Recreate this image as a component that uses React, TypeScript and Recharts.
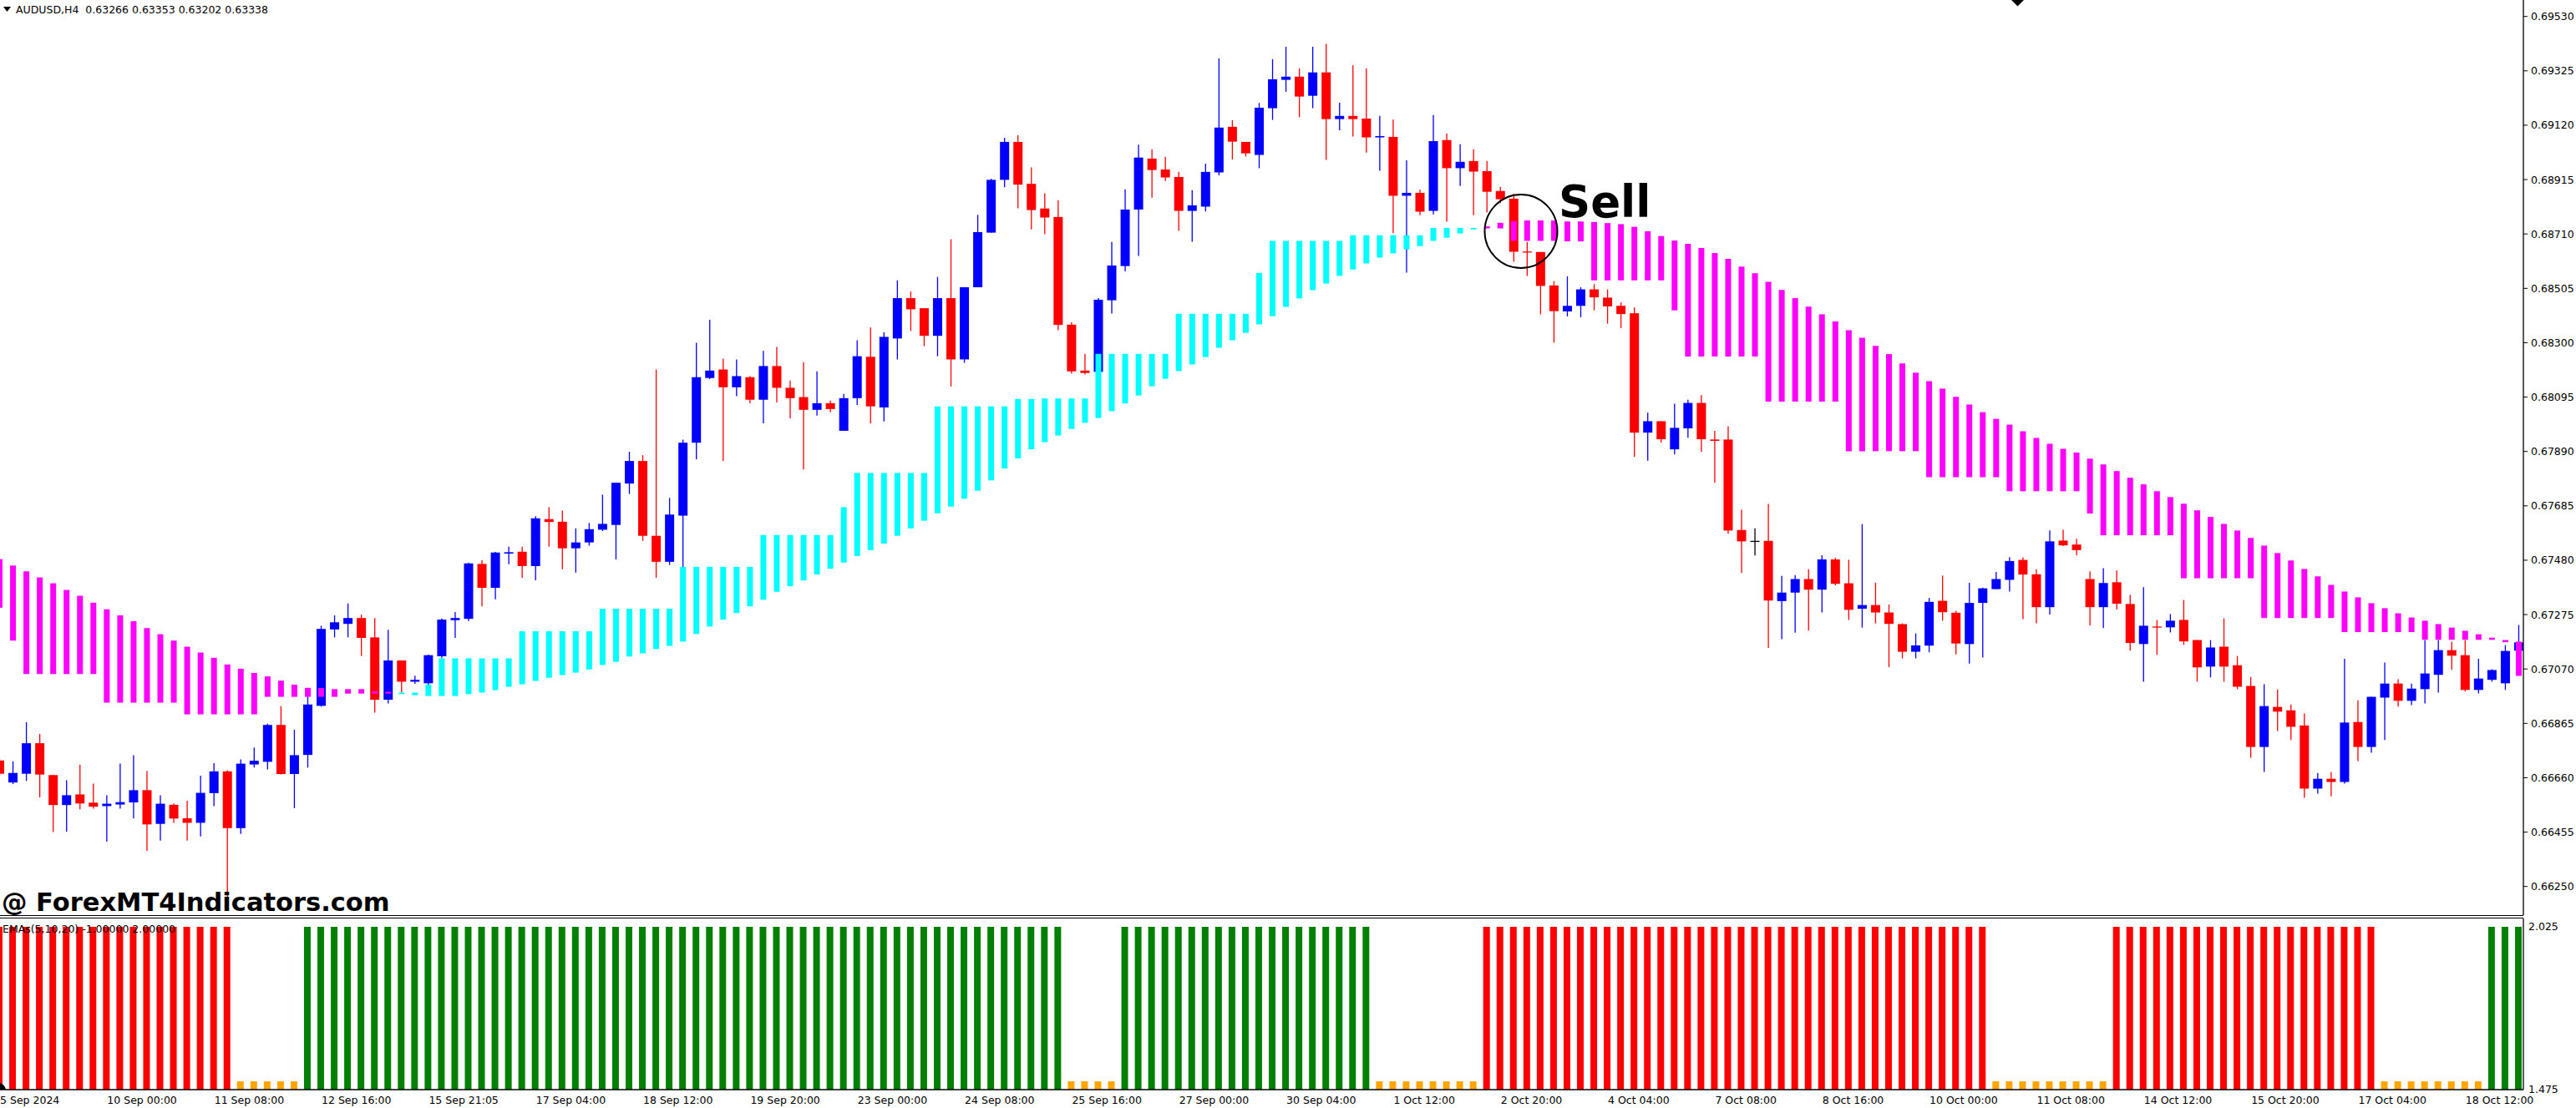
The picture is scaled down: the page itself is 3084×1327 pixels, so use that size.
import { Bar, Cell, ComposedChart, XAxis, YAxis } from "recharts";

// AUDUSD H4 candles, left to right
const opens = [
  0.66725, 0.66642, 0.66675, 0.6679, 0.6667, 0.66557, 0.66597, 0.66566, 0.66553, 0.66559,
  0.66567, 0.66613, 0.66486, 0.66558, 0.66507, 0.6649, 0.66602, 0.66684, 0.6647, 0.6671,
  0.6672, 0.66859, 0.66674, 0.66746, 0.66931, 0.67219, 0.6724, 0.67262, 0.67189, 0.66954,
  0.67102, 0.67022, 0.67016, 0.67118, 0.67254, 0.67259, 0.67466, 0.67376, 0.67505, 0.67512,
  0.67458, 0.67635, 0.67625, 0.67525, 0.67547, 0.67595, 0.67613, 0.67769, 0.67854, 0.67572,
  0.67474, 0.67648, 0.67923, 0.68167, 0.68199, 0.68132, 0.6817, 0.68085, 0.68212, 0.6813,
  0.68095, 0.68047, 0.68072, 0.67968, 0.68091, 0.68247, 0.68056, 0.68316, 0.68468, 0.6843,
  0.68326, 0.68468, 0.68237, 0.68509, 0.68715, 0.68914, 0.69057, 0.68899, 0.68806, 0.68774,
  0.68368, 0.68195, 0.6819, 0.6846, 0.68589, 0.68802, 0.68994, 0.68953, 0.68925, 0.68797,
  0.68813, 0.68942, 0.69114, 0.69057, 0.69008, 0.69184, 0.69291, 0.69303, 0.69231, 0.69319,
  0.69143, 0.69155, 0.69145, 0.69074, 0.69076, 0.68854, 0.68865, 0.68797, 0.69064, 0.68958,
  0.68985, 0.68947, 0.68872, 0.68843, 0.68644, 0.68642, 0.68516, 0.68418, 0.68439, 0.68501,
  0.6847, 0.68439, 0.68411, 0.67961, 0.68004, 0.67898, 0.67977, 0.68073, 0.67935, 0.67935,
  0.67594, 0.67553, 0.67553, 0.67326, 0.67358, 0.67409, 0.67369, 0.67483, 0.67393, 0.67297,
  0.67311, 0.67283, 0.67239, 0.67135, 0.67158, 0.67327, 0.67282, 0.67164, 0.67319, 0.67371,
  0.67406, 0.67481, 0.67427, 0.67303, 0.67554, 0.67539, 0.67409, 0.67303, 0.67397, 0.67315,
  0.67164, 0.6723, 0.67227, 0.67255, 0.67179, 0.67079, 0.67154, 0.67084, 0.67006, 0.66776,
  0.66927, 0.66914, 0.66857, 0.66619, 0.66656, 0.66644, 0.6687, 0.66776, 0.66962, 0.67015,
  0.6695, 0.66994, 0.67048, 0.67141, 0.67122, 0.66991, 0.67029, 0.67016, 0.67139,
];
const highs = [
  0.66731, 0.66722, 0.66869, 0.66825, 0.6667, 0.6665, 0.66709, 0.66638, 0.66594, 0.66713,
  0.66745, 0.66686, 0.66594, 0.66563, 0.66573, 0.66668, 0.66715, 0.66688, 0.66729, 0.66774,
  0.66864, 0.6693, 0.66841, 0.66968, 0.67233, 0.67272, 0.67317, 0.67275, 0.67262, 0.67218,
  0.67102, 0.67045, 0.67124, 0.6726, 0.67285, 0.6747, 0.6748, 0.67511, 0.67531, 0.67531,
  0.67646, 0.6768, 0.67667, 0.676, 0.6762, 0.67727, 0.67772, 0.67889, 0.67876, 0.68199,
  0.67715, 0.67935, 0.683, 0.68386, 0.6824, 0.68237, 0.68174, 0.68269, 0.68284, 0.68157,
  0.68227, 0.68192, 0.68082, 0.68107, 0.68309, 0.68357, 0.68339, 0.68535, 0.68493, 0.6843,
  0.68548, 0.6869, 0.68509, 0.68782, 0.68918, 0.69073, 0.69082, 0.68961, 0.68863, 0.68837,
  0.68377, 0.68258, 0.68468, 0.6868, 0.68878, 0.69047, 0.69029, 0.69001, 0.68944, 0.68875,
  0.68975, 0.69372, 0.69139, 0.69057, 0.69204, 0.69369, 0.69416, 0.69334, 0.69416, 0.69427,
  0.69205, 0.69346, 0.69334, 0.69155, 0.69141, 0.68988, 0.68877, 0.69158, 0.69089, 0.69048,
  0.69029, 0.68985, 0.68888, 0.68862, 0.6868, 0.68642, 0.68532, 0.6855, 0.68509, 0.68521,
  0.68501, 0.68452, 0.68433, 0.68036, 0.68004, 0.6807, 0.68085, 0.68102, 0.67968, 0.67985,
  0.6767, 0.676, 0.67692, 0.67421, 0.67424, 0.67446, 0.67499, 0.67489, 0.67481, 0.67616,
  0.67395, 0.67313, 0.67242, 0.67204, 0.67338, 0.67422, 0.67289, 0.67395, 0.67377, 0.67436,
  0.67492, 0.67491, 0.67446, 0.67592, 0.67595, 0.67561, 0.67438, 0.6745, 0.67441, 0.67349,
  0.67378, 0.67255, 0.67277, 0.6733, 0.67179, 0.67179, 0.67261, 0.67119, 0.6704, 0.67012,
  0.66993, 0.66936, 0.66902, 0.66678, 0.66681, 0.67108, 0.66952, 0.66965, 0.67094, 0.67031,
  0.67015, 0.67179, 0.67179, 0.67173, 0.67179, 0.67108, 0.67069, 0.6716, 0.67236,
];
const lows = [
  0.66669, 0.66636, 0.66648, 0.66586, 0.66455, 0.66457, 0.66541, 0.66543, 0.66419, 0.66543,
  0.66506, 0.66384, 0.66423, 0.6649, 0.66423, 0.66439, 0.66553, 0.66203, 0.66448, 0.66698,
  0.66691, 0.66672, 0.66545, 0.66698, 0.66928, 0.67189, 0.67189, 0.67119, 0.66905, 0.6694,
  0.66981, 0.67014, 0.67011, 0.67111, 0.67187, 0.67251, 0.67306, 0.67333, 0.67465, 0.67414,
  0.67404, 0.67531, 0.67446, 0.67433, 0.67535, 0.6759, 0.67483, 0.6773, 0.67553, 0.67414,
  0.67462, 0.67455, 0.67861, 0.68163, 0.67854, 0.68098, 0.68072, 0.67996, 0.68075, 0.68015,
  0.67822, 0.68025, 0.68038, 0.67968, 0.68065, 0.67996, 0.68003, 0.68237, 0.68344, 0.68287,
  0.68249, 0.68135, 0.68224, 0.68509, 0.68715, 0.68886, 0.68807, 0.68727, 0.68709, 0.68347,
  0.68183, 0.6818, 0.6819, 0.6841, 0.68569, 0.68627, 0.68847, 0.6891, 0.68722, 0.68681,
  0.68795, 0.68931, 0.68991, 0.69002, 0.68958, 0.6914, 0.69246, 0.6915, 0.69184, 0.68989,
  0.69101, 0.69077, 0.69017, 0.68948, 0.68713, 0.68564, 0.68781, 0.68784, 0.68756, 0.68891,
  0.68781, 0.68791, 0.68826, 0.68605, 0.68552, 0.68407, 0.683, 0.68399, 0.68396, 0.68422,
  0.68372, 0.68355, 0.67869, 0.67855, 0.67924, 0.67879, 0.67942, 0.67889, 0.67772, 0.6758,
  0.67432, 0.67498, 0.67149, 0.67182, 0.67207, 0.67215, 0.67283, 0.67385, 0.67255, 0.67226,
  0.67242, 0.67077, 0.6711, 0.6711, 0.67133, 0.67252, 0.67125, 0.6709, 0.67113, 0.67371,
  0.67362, 0.67258, 0.67242, 0.67275, 0.67533, 0.67499, 0.67234, 0.67224, 0.67294, 0.67139,
  0.67022, 0.67123, 0.67208, 0.67161, 0.67022, 0.67038, 0.67022, 0.66994, 0.66735, 0.66682,
  0.66836, 0.66802, 0.66584, 0.666, 0.6659, 0.66638, 0.66723, 0.66754, 0.66802, 0.66928,
  0.66934, 0.6694, 0.66981, 0.67067, 0.66985, 0.66978, 0.67022, 0.66991, 0.67139,
];
const closes = [
  0.66675, 0.66678, 0.6679, 0.66672, 0.66557, 0.66594, 0.66563, 0.66551, 0.66562, 0.66568,
  0.66613, 0.66484, 0.66562, 0.66506, 0.6649, 0.66603, 0.66684, 0.6647, 0.66713, 0.66724,
  0.66859, 0.66674, 0.66745, 0.66936, 0.67221, 0.67246, 0.67262, 0.67187, 0.66954, 0.67102,
  0.67022, 0.67029, 0.67122, 0.67256, 0.67262, 0.67468, 0.67376, 0.67509, 0.6751, 0.67458,
  0.67638, 0.67624, 0.67525, 0.67547, 0.67597, 0.67617, 0.67772, 0.67854, 0.67572, 0.67474,
  0.67652, 0.67923, 0.6817, 0.68195, 0.68132, 0.68174, 0.68085, 0.68212, 0.6813, 0.68091,
  0.68047, 0.68072, 0.6805, 0.68091, 0.68249, 0.6806, 0.68322, 0.68468, 0.68426, 0.68326,
  0.68468, 0.68237, 0.68509, 0.68717, 0.68914, 0.69057, 0.68896, 0.688, 0.68772, 0.68367,
  0.68192, 0.68186, 0.68462, 0.68591, 0.68802, 0.68998, 0.68951, 0.68923, 0.68797, 0.68818,
  0.68944, 0.69111, 0.69058, 0.69014, 0.69186, 0.69293, 0.69303, 0.69228, 0.69319, 0.69143,
  0.69155, 0.69143, 0.69074, 0.69079, 0.68854, 0.68865, 0.68794, 0.6906, 0.68958, 0.68982,
  0.68945, 0.68869, 0.68841, 0.68643, 0.6864, 0.68514, 0.68419, 0.68439, 0.68501, 0.68471,
  0.68437, 0.68408, 0.67961, 0.68004, 0.67936, 0.67979, 0.68073, 0.67936, 0.6793, 0.67592,
  0.67551, 0.67553, 0.67328, 0.67358, 0.67409, 0.67369, 0.67483, 0.67391, 0.67293, 0.67311,
  0.67283, 0.6724, 0.67135, 0.67159, 0.67323, 0.67284, 0.67166, 0.67319, 0.67374, 0.67409,
  0.67477, 0.67426, 0.67303, 0.67551, 0.67536, 0.67518, 0.67303, 0.67394, 0.67316, 0.67168,
  0.67233, 0.67227, 0.67252, 0.67174, 0.67076, 0.67151, 0.67079, 0.67003, 0.66776, 0.6693,
  0.66909, 0.66852, 0.66619, 0.66656, 0.66644, 0.66868, 0.66776, 0.66965, 0.67015, 0.6695,
  0.66996, 0.67053, 0.67141, 0.6712, 0.66991, 0.67034, 0.67066, 0.67138, 0.6717,
];

// trend histogram drawn over the candles: upper and lower end of each bar
const histHigh = [
  0.67484, 0.6746, 0.67438, 0.67415, 0.67393, 0.67368, 0.67346, 0.6732, 0.67295, 0.67272,
  0.6725, 0.67224, 0.67201, 0.67177, 0.67154, 0.67132, 0.67112, 0.67087, 0.67071, 0.67055,
  0.67042, 0.67026, 0.67011, 0.66999, 0.66998, 0.66994, 0.66994, 0.66994, 0.66986, 0.66984,
  0.66981, 0.66981, 0.67011, 0.6711, 0.6711, 0.6711, 0.6711, 0.6711, 0.6711, 0.67212,
  0.67212, 0.67212, 0.67212, 0.67212, 0.67212, 0.67297, 0.67297, 0.67297, 0.67297, 0.67297,
  0.67297, 0.67455, 0.67455, 0.67455, 0.67455, 0.67455, 0.67455, 0.67575, 0.67575, 0.67575,
  0.67575, 0.67575, 0.67575, 0.6768, 0.67809, 0.67809, 0.67809, 0.67809, 0.67809, 0.67809,
  0.6806, 0.6806, 0.6806, 0.6806, 0.6806, 0.6806, 0.68088, 0.68088, 0.6809, 0.6809,
  0.6809, 0.6809, 0.68258, 0.68258, 0.68258, 0.68258, 0.68258, 0.68258, 0.68409, 0.68409,
  0.68409, 0.68409, 0.68409, 0.68409, 0.68563, 0.68684, 0.68684, 0.68684, 0.68684, 0.68684,
  0.68684, 0.68705, 0.68705, 0.68705, 0.68705, 0.68705, 0.68705, 0.68733, 0.68733, 0.68733,
  0.68733, 0.68739, 0.68752, 0.68758, 0.68761, 0.68761, 0.68761, 0.68757, 0.68757, 0.68755,
  0.68751, 0.68747, 0.68737, 0.6872, 0.68702, 0.68685, 0.68673, 0.68657, 0.68638, 0.68616,
  0.68587, 0.68562, 0.6853, 0.68499, 0.68468, 0.68436, 0.68407, 0.6838, 0.68347, 0.68319,
  0.68288, 0.68257, 0.68222, 0.68187, 0.68155, 0.68127, 0.68096, 0.68067, 0.68038, 0.68013,
  0.67991, 0.67966, 0.67941, 0.67919, 0.679, 0.67886, 0.67863, 0.67841, 0.67816, 0.67791,
  0.67766, 0.6774, 0.67718, 0.67693, 0.67668, 0.67643, 0.67617, 0.67592, 0.67564, 0.67535,
  0.67507, 0.67479, 0.67447, 0.67419, 0.67387, 0.67362, 0.6734, 0.67318, 0.67299, 0.6728,
  0.67264, 0.67252, 0.67239, 0.67226, 0.67214, 0.67201, 0.67188, 0.67179, 0.67173,
];
const histLow = [
  0.67301, 0.67177, 0.67051, 0.67051, 0.67051, 0.67051, 0.67051, 0.67051, 0.66943, 0.66943,
  0.66943, 0.66943, 0.66943, 0.66943, 0.66899, 0.66899, 0.66899, 0.66899, 0.66899, 0.66899,
  0.66965, 0.66965, 0.66965, 0.66965, 0.66965, 0.66965, 0.66977, 0.66977, 0.66977, 0.66977,
  0.66975, 0.66971, 0.66968, 0.66968, 0.66968, 0.66975, 0.66981, 0.6699, 0.67003, 0.67012,
  0.67025, 0.67037, 0.67047, 0.67056, 0.67068, 0.67085, 0.67097, 0.67117, 0.67129, 0.67145,
  0.67157, 0.67173, 0.67202, 0.6723, 0.67256, 0.67281, 0.67306, 0.67331, 0.67361, 0.67382,
  0.67404, 0.67426, 0.67448, 0.67471, 0.67496, 0.67518, 0.67543, 0.67572, 0.676, 0.67629,
  0.67657, 0.67682, 0.67712, 0.67742, 0.67781, 0.67826, 0.67864, 0.67898, 0.67925, 0.6795,
  0.67975, 0.67998, 0.68016, 0.68042, 0.68071, 0.68101, 0.68136, 0.68164, 0.68193, 0.68218,
  0.68246, 0.68281, 0.68309, 0.68337, 0.68369, 0.684, 0.68435, 0.68467, 0.68498, 0.68523,
  0.68552, 0.68576, 0.68599, 0.68621, 0.68637, 0.68652, 0.68664, 0.68684, 0.68696, 0.68712,
  0.68727, 0.68731, 0.68731, 0.68684, 0.68684, 0.68684, 0.68684, 0.68682, 0.68682, 0.68535,
  0.68535, 0.68535, 0.68535, 0.68535, 0.68535, 0.68422, 0.68248, 0.68248, 0.68248, 0.68248,
  0.68248, 0.68248, 0.68078, 0.68078, 0.68078, 0.68078, 0.68078, 0.68078, 0.67891, 0.67891,
  0.67891, 0.67891, 0.67891, 0.67891, 0.67793, 0.67793, 0.67793, 0.67793, 0.67793, 0.67793,
  0.6774, 0.6774, 0.6774, 0.6774, 0.6774, 0.6774, 0.67656, 0.67574, 0.67574, 0.67574,
  0.67574, 0.67574, 0.67574, 0.67412, 0.67412, 0.67412, 0.67412, 0.67412, 0.67412, 0.67262,
  0.67262, 0.67262, 0.67262, 0.67262, 0.67262, 0.67209, 0.67209, 0.67209, 0.67209, 0.67209,
  0.67209, 0.6718, 0.6718, 0.6718, 0.6718, 0.6718, 0.6718, 0.67171, 0.67044,
];
// runs of bars: [state, count]
const histRuns: [string, number][] = [["down", 30], ["up", 81], ["down", 78]];

// EMAs(5,10,20) sub window
const emaRuns: [string, number][] = [
  ["sell", 18], ["flat", 5], ["buy", 57], ["flat", 4], ["buy", 19], ["flat", 8],
  ["sell", 38], ["flat", 9], ["sell", 20], ["flat", 8], ["buy", 3],
];
const emaLevel: Record<string, number> = { sell: 2.025, buy: 2.025, flat: 1.503 };
const emaColor: Record<string, string> = { sell: "#ff0000", buy: "#008000", flat: "#ffa500" };

const priceTicks = [
  0.6953, 0.69325, 0.6912, 0.68915, 0.6871, 0.68505, 0.683, 0.68095, 0.6789, 0.67685,
  0.6748, 0.67275, 0.6707, 0.66865, 0.6666, 0.66455, 0.6625,
];
const emaTicks = [2.025, 1.475];
const timeLabels = [
  "5 Sep 2024", "10 Sep 00:00", "11 Sep 08:00", "12 Sep 16:00", "15 Sep 21:05", "17 Sep 04:00",
  "18 Sep 12:00", "19 Sep 20:00", "23 Sep 00:00", "24 Sep 08:00", "25 Sep 16:00", "27 Sep 00:00",
  "30 Sep 04:00", "1 Oct 12:00", "2 Oct 20:00", "4 Oct 04:00", "7 Oct 08:00", "8 Oct 16:00",
  "10 Oct 00:00", "11 Oct 08:00", "14 Oct 12:00", "15 Oct 20:00", "17 Oct 04:00", "18 Oct 12:00",
];
const labelEvery = 8;

const expand = (runs: [string, number][]) =>
  runs.flatMap(([s, n]) => Array.from({ length: n }, () => s));

const histState = expand(histRuns);
const emaState = expand(emaRuns);

const candles = opens.map((o, i) => ({
  i,
  o,
  h: highs[i],
  l: lows[i],
  c: closes[i],
  hist: [histLow[i], histHigh[i]],
  trend: histState[i],
}));
const emaData = emaState.map((s, i) => ({ i, s, v: [1.475, emaLevel[s]] }));
const timeTicks = timeLabels.map((_, n) => n * labelEvery);

const W = 3084;
const SHIFT = 9;
const X_DOMAIN: [number, number] = [-0.5, 188.375];
const FONT = "DejaVu Sans, Verdana, sans-serif";

function Candle(props: any) {
  const { x, y, width, height, payload } = props;
  if (x == null || y == null) return null;
  const { o, h, l, c } = payload;
  const ppu = h > l ? height / (h - l) : 0;
  const yo = y + (h - o) * ppu;
  const yc = y + (h - c) * ppu;
  const top = Math.min(yo, yc);
  const bh = Math.max(Math.abs(yo - yc), 1.3);
  const color = c > o ? "#0000ff" : c < o ? "#ff0000" : "#000000";
  const cx = x + width / 2;
  return (
    <g>
      <line x1={cx} x2={cx} y1={y} y2={y + height} stroke={color} strokeWidth={1.3} />
      <rect x={x} y={top} width={width} height={bh} fill={color} />
    </g>
  );
}

function TimeTick(props: any) {
  const { x, y, payload } = props;
  const label = timeLabels[Math.round(payload.value / labelEvery)];
  return (
    <text x={x + 1} y={y + 17} fontFamily={FONT} fontSize={12.5} fill="#000" textAnchor="start">
      {label}
    </text>
  );
}

export default function App() {
  return (
    <div style={{ position: "absolute", left: 0, top: 0, width: W, height: 1327, overflow: "hidden", background: "#fff" }}>
      <div style={{ position: "absolute", left: -SHIFT, top: 0 }}>
        <ComposedChart width={W + SHIFT} height={1096} data={candles} margin={{ top: 0, right: 0, bottom: 0, left: 0 }}>
          <XAxis xAxisId="c" dataKey="i" type="number" domain={X_DOMAIN} allowDataOverflow hide />
          <XAxis xAxisId="h" dataKey="i" type="number" domain={X_DOMAIN} allowDataOverflow hide />
          <YAxis
            yAxisId="p"
            orientation="right"
            width={63}
            domain={[0.66142, 0.69592]}
            allowDataOverflow
            ticks={priceTicks}
            interval={0}
            tickFormatter={(v: number) => v.toFixed(5)}
            tick={{ fontFamily: FONT, fontSize: 12.5, fill: "#000" }}
            axisLine={{ stroke: "#000", strokeWidth: 1.3 }}
            tickLine={{ stroke: "#000" }}
            tickSize={5}
            tickMargin={4}
          />
          <Bar
            xAxisId="c"
            yAxisId="p"
            dataKey={(d: any) => [d.l, d.h]}
            barSize={11}
            shape={<Candle />}
            isAnimationActive={false}
          />
          <Bar xAxisId="h" yAxisId="p" dataKey="hist" barSize={7} isAnimationActive={false}>
            {candles.map((d) => (
              <Cell key={d.i} fill={d.trend === "up" ? "#00ffff" : "#ff00ff"} />
            ))}
          </Bar>
        </ComposedChart>
      </div>

      <div style={{ position: "absolute", left: -SHIFT, top: 1100 }}>
        <ComposedChart width={W + SHIFT} height={227} data={emaData} margin={{ top: 0, right: 0, bottom: 0, left: 0 }}>
          <XAxis
            xAxisId="s"
            dataKey="i"
            type="number"
            domain={X_DOMAIN}
            allowDataOverflow
            ticks={timeTicks}
            interval={0}
            height={22}
            tick={<TimeTick />}
            tickLine={false}
            tickSize={0}
            tickMargin={0}
            axisLine={{ stroke: "#000", strokeWidth: 1.3 }}
          />
          <YAxis
            yAxisId="e"
            orientation="right"
            width={63}
            domain={[1.475, 2.0532]}
            allowDataOverflow
            ticks={emaTicks}
            interval={0}
            tickFormatter={(v: number) => v.toFixed(3)}
            tick={{ fontFamily: FONT, fontSize: 12.5, fill: "#000" }}
            axisLine={{ stroke: "#000", strokeWidth: 1.3 }}
            tickLine={false}
            tickSize={3}
            tickMargin={3}
          />
          <Bar xAxisId="s" yAxisId="e" dataKey="v" barSize={8} isAnimationActive={false}>
            {emaData.map((d) => (
              <Cell key={d.i} fill={emaColor[d.s]} />
            ))}
          </Bar>
        </ComposedChart>
      </div>

      <svg width={W} height={1327} style={{ position: "absolute", left: 0, top: 0, pointerEvents: "none" }}>
        <line x1={0} x2={3021} y1={1096.5} y2={1096.5} stroke="#000" strokeWidth={1.2} />
        <line x1={0} x2={3021} y1={1099.5} y2={1099.5} stroke="#000" strokeWidth={1.2} />
        <polygon points="4,8 13,8 8.5,14" fill="#000" />
        <text x={19} y={16} fontFamily={FONT} fontSize={12.5} fill="#000" style={{ whiteSpace: "pre" }}>
          {"AUDUSD,H4  0.63266 0.63353 0.63202 0.63338"}
        </text>
        <polygon points="2408,0 2423,0 2415.5,7.5" fill="#000" />
        <text x={3} y={1116.5} fontFamily={FONT} fontSize={12.5} fill="#000">
          EMAs(5,10,20) -1.00000 2.00000
        </text>
        <text x={2} y={1091} fontFamily="DejaVu Sans, sans-serif" fontWeight="bold" fontSize={30.5} fill="#000">
          @ ForexMT4Indicators.com
        </text>
        <text x={1866} y={260} fontFamily="DejaVu Sans, sans-serif" fontWeight="bold" fontSize={53} fill="#000">
          Sell
        </text>
        <ellipse cx={1821} cy={277} rx={43.5} ry={44} fill="none" stroke="#000" strokeWidth={2} />
        <path d="M0,1297 Q6,1299 7,1305 L0,1305 Z" fill="#000" />
      </svg>
    </div>
  );
}
